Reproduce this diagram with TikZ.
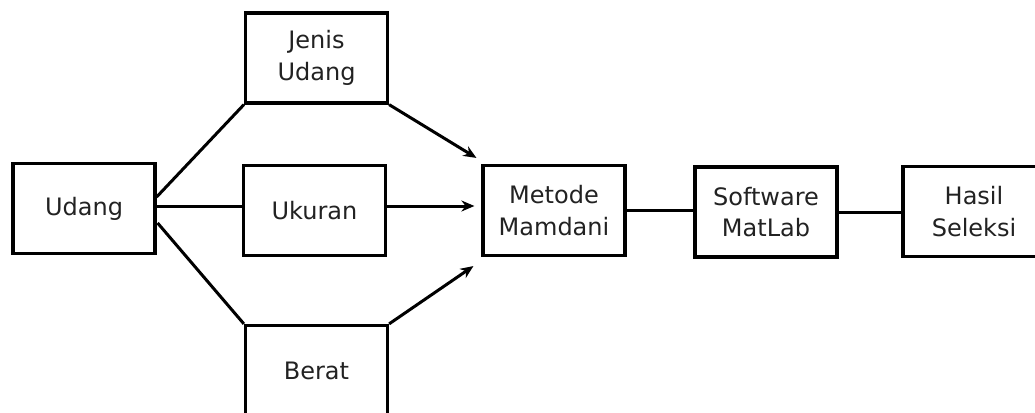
\documentclass[tikz,border=0pt]{standalone}
\usepackage{fontspec}
\setmainfont{DejaVu Sans}
\usetikzlibrary{arrows.meta,calc}
\definecolor{txt}{HTML}{222222}
\tikzset{
  box/.style={draw=black, line width=3.2pt, minimum width=142pt, minimum height=90pt,
    inner sep=0pt, align=center, text=txt, font=\fontsize{24}{31.5}\selectfont},
  conn/.style={draw=black, line width=3pt},
  arr/.style={conn, -{Stealth[length=13pt,width=11pt]}}
}
\begin{document}
\begin{tikzpicture}[x=1pt,y=-1pt]
\useasboundingbox (0,0) rectangle (1035,412);
\clip (0,0) rectangle (1035,412);
\fill[white] (0,0) rectangle (1035,412);
\node[box] (U) at (84,208.5) {Udang};
\node[box] (J) at (316.5,58) {Jenis\\Udang};
\node[box] (K) at (314.5,210.5) {Ukuran};
\node[box] (B) at (316.5,370.5) {Berat};
\node[box] (M) at (554,210.5) {Metode\\Mamdani};
\node[box] (S) at (766,212) {Software\\MatLab};
\node[box] (H) at (974,211.5) {Hasil\\Seleksi};
\draw[conn] ($(U.east)+(0,-11.5)$) -- (J.south west);
\draw[conn] ($(U.east)+(0,-2.5)$) -- ($(K.west)+(0,-4.5)$);
\draw[conn] ($(U.east)+(1,14.5)$) -- (B.north west);
\draw[arr] (J.south east) -- ($(M.north west)+(-5,-6)$);
\draw[arr] ($(K.east)+(0,-4.5)$) -- ($(M.west)+(-7,-4.5)$);
\draw[arr] (B.north east) -- ($(M.south west)+(-8,9)$);
\draw[conn] (M.east) -- (M.east -| S.west);
\draw[conn] (S.east) -- (S.east -| H.west);
\end{tikzpicture}
\end{document}
